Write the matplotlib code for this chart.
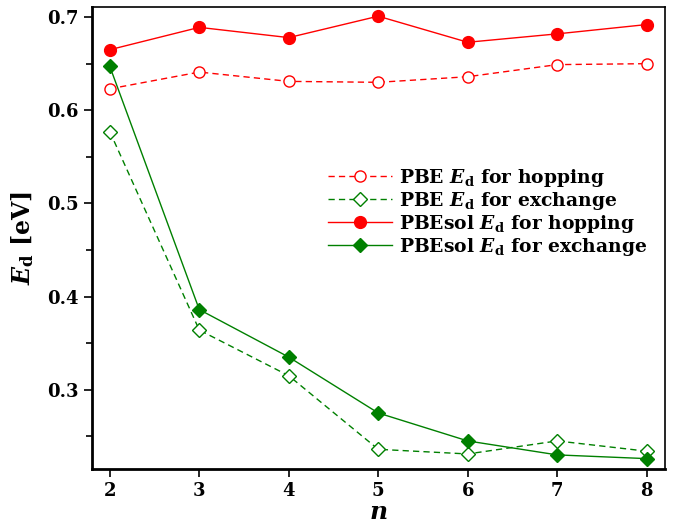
import matplotlib
matplotlib.use("Agg")
import matplotlib.pyplot as plt
from matplotlib.ticker import MultipleLocator

# ---- data ----
n = [2, 3, 4, 5, 6, 7, 8]
pbe_hop = [0.623, 0.641, 0.631, 0.630, 0.636, 0.649, 0.650]
pbe_exch = [0.577, 0.364, 0.315, 0.236, 0.231, 0.245, 0.234]
pbesol_hop = [0.665, 0.689, 0.678, 0.701, 0.673, 0.682, 0.692]
pbesol_exch = [0.647, 0.386, 0.335, 0.275, 0.245, 0.230, 0.226]

plt.rcParams["font.family"] = "DejaVu Serif"
plt.rcParams["font.weight"] = "bold"
plt.rcParams["axes.labelweight"] = "bold"
plt.rcParams["mathtext.fontset"] = "custom"
plt.rcParams["mathtext.rm"] = "DejaVu Serif:bold"
plt.rcParams["mathtext.it"] = "DejaVu Serif:bold:italic"

fig = plt.figure(figsize=(6.76, 5.28), dpi=100)
ax = fig.add_axes([0.136, 0.112, 0.847, 0.875])

red, green = "#ff0000", "#008000"
dash = (4.5, 3)
ax.plot(n, pbe_hop, "--o", color=red, lw=1, ms=8, mfc="white", mew=1, dashes=dash,
        label=r"PBE $E_\mathrm{d}$ for hopping")
ax.plot(n, pbe_exch, "--D", color=green, lw=1, ms=7, mfc="white", mew=1, dashes=dash,
        label=r"PBE $E_\mathrm{d}$ for exchange")
ax.plot(n, pbesol_hop, "-o", color=red, lw=1, ms=8.5,
        label=r"PBEsol $E_\mathrm{d}$ for hopping")
ax.plot(n, pbesol_exch, "-D", color=green, lw=1, ms=7.5,
        label=r"PBEsol $E_\mathrm{d}$ for exchange")

ax.set_xlim(1.8, 8.2)
ax.set_ylim(0.215, 0.711)
ax.set_xticks(n)
ax.yaxis.set_major_locator(MultipleLocator(0.1))
ax.yaxis.set_minor_locator(MultipleLocator(0.05))
ax.tick_params(which="both", direction="out", top=False, right=False, labelsize=13, width=1.2)
ax.tick_params(which="major", length=6)
ax.tick_params(which="minor", length=4)
for s in ax.spines.values():
    s.set_linewidth(1.2)
ax.spines["left"].set_linewidth(2)
ax.spines["bottom"].set_linewidth(2)

ax.set_xlabel(r"$n$", fontsize=18, labelpad=0)
ax.set_ylabel(r"$E_\mathrm{d}$ [eV]", fontsize=17, labelpad=8)

ax.legend(loc="center right", bbox_to_anchor=(1.0, 0.555), frameon=False, fontsize=13.5,
          handlelength=3.4, labelspacing=0.05, handletextpad=0.4)

fig.savefig("out.png", dpi=100)
